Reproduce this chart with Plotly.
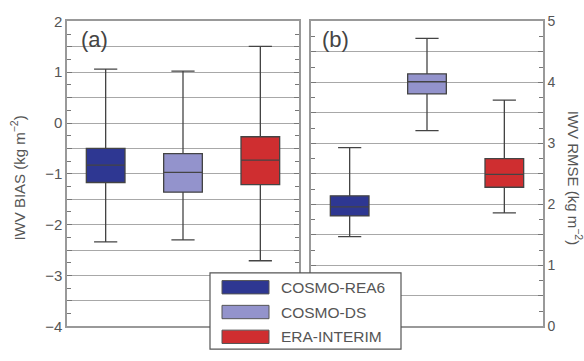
import plotly.graph_objects as go

# Models and colours
models = ["COSMO-REA6", "COSMO-DS", "ERA-INTERIM"]
colors = ["#2e3792", "#9393cc", "#cf2e30"]

# (a) IWV bias statistics (kg m-2)
bias_low = [-2.34, -2.30, -2.71]
bias_q1 = [-1.17, -1.36, -1.21]
bias_med = [-0.83, -0.97, -0.73]
bias_q3 = [-0.50, -0.60, -0.27]
bias_high = [1.06, 1.02, 1.51]

# (b) IWV RMSE statistics (kg m-2)
rmse_low = [1.47, 3.21, 1.86]
rmse_q1 = [1.81, 3.81, 2.28]
rmse_med = [1.96, 4.01, 2.49]
rmse_q3 = [2.14, 4.14, 2.75]
rmse_high = [2.93, 4.72, 3.71]

W, H = 584, 361
FONT = "Liberation Sans, Arial, sans-serif"
TXT = "#555555"


def px(x):
    return x / W


def py(y):
    return 1 - y / H


fig = go.Figure()

for i, name in enumerate(models):
    fig.add_trace(go.Box(
        x=[i], q1=[bias_q1[i]], median=[bias_med[i]], q3=[bias_q3[i]],
        lowerfence=[bias_low[i]], upperfence=[bias_high[i]],
        fillcolor=colors[i], line=dict(color="#444444", width=1.3),
        width=0.5, whiskerwidth=0.6, name=name, showlegend=False,
        xaxis="x", yaxis="y", hoverinfo="skip",
    ))
    fig.add_trace(go.Box(
        x=[i], q1=[rmse_q1[i]], median=[rmse_med[i]], q3=[rmse_q3[i]],
        lowerfence=[rmse_low[i]], upperfence=[rmse_high[i]],
        fillcolor=colors[i], line=dict(color="#444444", width=1.3),
        width=0.5, whiskerwidth=0.6, name=name, showlegend=False,
        xaxis="x2", yaxis="y2", hoverinfo="skip",
    ))

ydom = [py(333), py(13)]
xcommon = dict(range=[-0.5, 2.5], showticklabels=False, ticks="",
               showgrid=False, zeroline=False, showline=True,
               linecolor="#999999", linewidth=1.5, mirror=True)


def yaxis_cfg(lo, hi, side, size):
    vals = [lo + 0.5 * k for k in range(int((hi - lo) * 2) + 1)]
    text = [("%d" % v).replace("-", "\u2212") if float(v).is_integer() else ""
            for v in vals]
    return dict(
        range=[lo, hi], domain=ydom, side=side,
        tickvals=vals, ticktext=text,
        ticks="inside", ticklen=5, tickwidth=1.2, tickcolor="#777777",
        tickfont=dict(family=FONT, size=size, color=TXT),
        showgrid=True, gridcolor="#a8a8a8", gridwidth=1.2,
        zeroline=False, showline=True, linecolor="#999999", linewidth=1.5,
        mirror="ticks",
        minor=dict(dtick=0.25, ticks="inside", ticklen=4,
                   tickcolor="#777777", showgrid=False),
    )


fig.update_layout(
    width=W, height=H, margin=dict(l=0, r=0, t=0, b=0),
    paper_bgcolor="white", plot_bgcolor="white",
    showlegend=False,
    xaxis=dict(domain=[px(67), px(299)], anchor="y", **xcommon),
    xaxis2=dict(domain=[px(311), px(543)], anchor="y2", **xcommon),
    yaxis=dict(anchor="x", **yaxis_cfg(-4, 2, "left", 15)),
    yaxis2=dict(anchor="x2", **yaxis_cfg(0, 5, "right", 14)),
)

annotations = [
    dict(text="(a)", x=px(79), y=py(32), xref="paper", yref="paper",
         xanchor="left", yanchor="middle", showarrow=False,
         font=dict(family=FONT, size=22, color="#444444")),
    dict(text="(b)", x=px(320), y=py(32), xref="paper", yref="paper",
         xanchor="left", yanchor="middle", showarrow=False,
         font=dict(family=FONT, size=22, color="#444444")),
    dict(text="IWV BIAS (kg m<sup>\u22122</sup>)", x=px(18), y=py(178),
         xref="paper", yref="paper", textangle=-90, showarrow=False,
         xanchor="center", yanchor="middle",
         font=dict(family=FONT, size=15, color=TXT)),
    dict(text="IWV RMSE (kg m<sup>\u22122</sup>)", x=px(575), y=py(177),
         xref="paper", yref="paper", textangle=90, showarrow=False,
         xanchor="center", yanchor="middle",
         font=dict(family=FONT, size=15, color=TXT)),
]

# Legend panel
shapes = [dict(type="rect", xref="paper", yref="paper",
               x0=px(210), x1=px(401), y0=py(357), y1=py(277),
               fillcolor="white", line=dict(color="#555555", width=1.2),
               layer="above")]
row_y = [292, 318, 344]
for i, name in enumerate(models):
    shapes.append(dict(type="rect", xref="paper", yref="paper",
                       x0=px(222), x1=px(269),
                       y0=py(row_y[i] + 7), y1=py(row_y[i] - 7),
                       fillcolor=colors[i],
                       line=dict(color="#555555", width=1), layer="above"))
    annotations.append(dict(text=name, x=px(279), y=py(row_y[i]),
                            xref="paper", yref="paper", xanchor="left",
                            yanchor="middle", showarrow=False,
                            font=dict(family=FONT, size=15.5, color=TXT)))

fig.update_layout(shapes=shapes, annotations=annotations)
fig.write_html("out.html")
